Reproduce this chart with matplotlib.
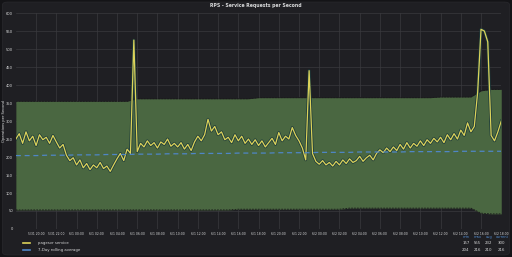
import numpy as np
import matplotlib.pyplot as plt
from matplotlib.patches import FancyBboxPatch
import pandas as pd

# requests per second, one value per 20 minutes from 5/31 18:00
rps = [250, 265, 238, 270, 245, 258, 232, 262, 248, 255, 238, 260,
       242, 225, 235, 205, 190, 198, 178, 192, 170, 182, 165, 178,
       170, 185, 168, 175, 160, 178, 195, 210, 190, 222, 210, 525,
       215, 238, 228, 245, 232, 240, 225, 242, 235, 250, 230, 238,
       228, 240, 222, 235, 218, 242, 258, 245, 262, 305, 272, 285,
       262, 270, 248, 255, 240, 262, 245, 258, 238, 250, 235, 248,
       232, 245, 228, 240, 252, 235, 268, 245, 258, 250, 282, 260,
       245, 225, 192, 440, 210, 188, 180, 190, 178, 185, 175, 188,
       178, 192, 182, 195, 185, 190, 202, 188, 198, 205, 192, 210,
       220, 212, 225, 215, 228, 218, 235, 222, 240, 225, 238, 230,
       245, 232, 248, 238, 252, 242, 255, 240, 262, 248, 265, 250,
       275, 260, 295, 270, 285, 380, 555, 550, 520, 260, 245, 270,
       300]

# hourly band (expected range) and 7-day rolling average
band_hi = [355] * 12 + [362] * 12 + [365] * 18 + [367] * 4 + [384, 388, 388]
band_lo = [53] * 22 + [55] * 11 + [58] * 13 + [44, 42, 42]
rolling = [204, 204, 204, 205, 205, 205, 206, 206, 206, 207, 207, 207,
           208, 208, 208, 209, 209, 209, 210, 210, 210, 210, 211, 211,
           211, 211, 212, 212, 212, 212, 213, 213, 213, 213, 214, 214,
           214, 214, 214, 215, 215, 215, 215, 215, 216, 216, 216, 216, 216]

legend_cols = ["min", "max", "avg", "current"]
legend_rows = [["157", "555", "232", "300"], ["204", "216", "210", "216"]]

t_rps = pd.date_range("2018-05-31 18:00", periods=len(rps), freq="20min")
t_hr = pd.date_range("2018-05-31 18:00", periods=len(band_hi), freq="h")

bg = "#1f1f23"
fig = plt.figure(figsize=(5.12, 2.57), dpi=100, facecolor="#141417")
panel = FancyBboxPatch((0.005, 0.008), 0.99, 0.984, boxstyle="round,pad=0,rounding_size=0.01",
                       transform=fig.transFigure, facecolor=bg, edgecolor="#2a2a2e", lw=0.5, zorder=-5)
fig.patches.append(panel)
ax = fig.add_axes([0.031, 0.109, 0.948, 0.84])
ax.set_facecolor(bg)

ax.fill_between(t_hr, band_lo, band_hi, color="#4a6741", lw=0, zorder=1)
ax.plot(t_hr, band_hi, color="#1a1a1a", lw=0.6, ls=(0, (2, 1.5)), zorder=2)
ax.plot(t_hr, band_lo, color="#1a1a1a", lw=0.6, ls=(0, (2, 1.5)), zorder=2)
ax.plot(t_rps, rps, color="#1c3a3a", lw=2.0, zorder=3)
ax.plot(t_rps, rps, color="#dcd35a", lw=0.9, zorder=4)
ax.plot(t_hr, rolling, color="#4f86c6", lw=0.9, ls=(0, (4, 3)), zorder=5)

ax.set_xlim(t_hr[0], t_hr[-1])
ax.set_ylim(0, 600)
ax.set_yticks(np.arange(0, 601, 50))
ticks = pd.date_range("2018-05-31 20:00", "2018-06-02 18:00", freq="2h")
ax.set_xticks(ticks)
ax.set_xticklabels([f"{d.month}/{d.day} {d:%H:%M}" for d in ticks])
ax.tick_params(colors="#d8d9da", labelsize=2.6, length=0, pad=2)
ax.tick_params(axis="x", labelsize=2.2)
ax.grid(True, color="#3a3a3e", lw=0.5)
ax.set_axisbelow(True)
for s in ax.spines.values():
    s.set_visible(False)
ax.set_ylabel("Operations per Second", color="#d8d9da", fontsize=2.6)
ax.yaxis.set_label_coords(-0.021, 0.5)

fig.text(0.5, 0.978, "RPS - Service Requests per Second", color="#d8d9da", fontsize=3.3,
         ha="center", va="center", weight="bold")

# legend
fig.add_artist(plt.Line2D([0.045, 0.058], [0.054, 0.054], color="#dcd35a", lw=1.2))
fig.add_artist(plt.Line2D([0.045, 0.058], [0.029, 0.029], color="#4f86c6", lw=1.2))
fig.text(0.075, 0.054, "pagesvr service", color="#d8d9da", fontsize=2.8, va="center")
fig.text(0.075, 0.029, "7-Day rolling average", color="#d8d9da", fontsize=2.8, va="center")
xs = [0.910, 0.932, 0.955, 0.980]
for x, c in zip(xs, legend_cols):
    fig.text(x, 0.078, c, color="#4f86c6", fontsize=2.6, ha="center", va="center")
for row, y in zip(legend_rows, [0.054, 0.029]):
    for x, v in zip(xs, row):
        fig.text(x, y, v, color="#d8d9da", fontsize=2.8, ha="center", va="center")

fig.savefig("out.png", dpi=100, facecolor=fig.get_facecolor())
